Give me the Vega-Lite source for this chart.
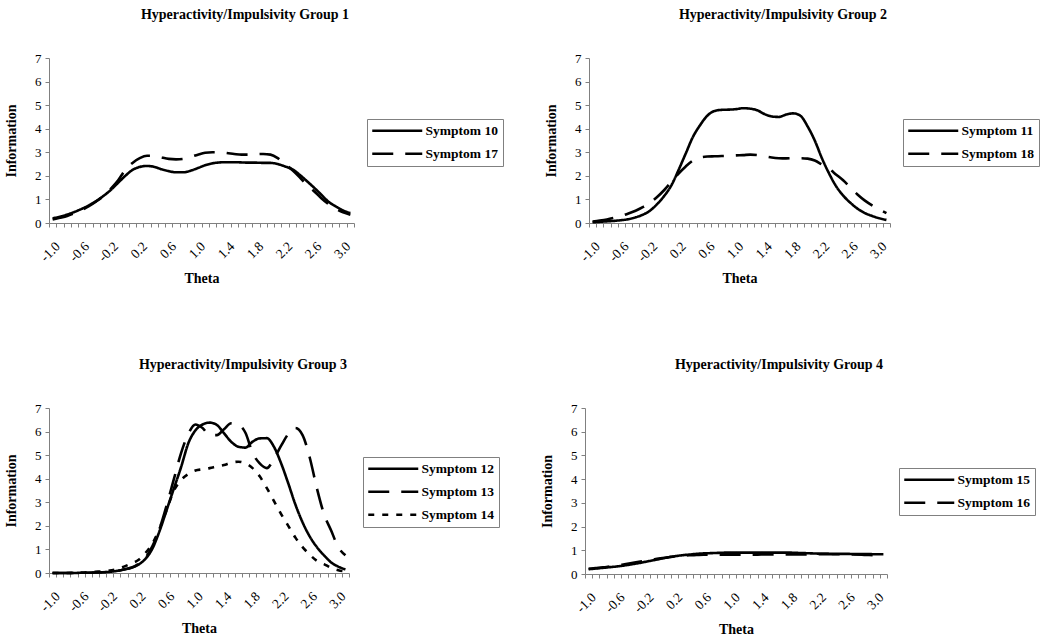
{
  "$schema": "https://vega.github.io/schema/vega-lite/v6.json",
  "background": "white",
  "padding": {"left": 4, "top": 8, "right": 0, "bottom": 0},
  "datasets": {
    "d": [
      {"theta": -1.0, "Symptom 10": 0.2, "Symptom 17": 0.15, "Symptom 11": 0.03, "Symptom 18": 0.06, "Symptom 12": 0, "Symptom 13": 0, "Symptom 14": 0, "Symptom 15": 0.2, "Symptom 16": 0.22},
      {"theta": -0.9, "Symptom 10": 0.27, "Symptom 17": 0.22, "Symptom 11": 0.05, "Symptom 18": 0.1, "Symptom 12": 0, "Symptom 13": 0, "Symptom 14": 0, "Symptom 15": 0.23, "Symptom 16": 0.25},
      {"theta": -0.8, "Symptom 10": 0.36, "Symptom 17": 0.3, "Symptom 11": 0.07, "Symptom 18": 0.15, "Symptom 12": 0, "Symptom 13": 0, "Symptom 14": 0, "Symptom 15": 0.26, "Symptom 16": 0.28},
      {"theta": -0.7, "Symptom 10": 0.47, "Symptom 17": 0.42, "Symptom 11": 0.09, "Symptom 18": 0.22, "Symptom 12": 0, "Symptom 13": 0, "Symptom 14": 0.01, "Symptom 15": 0.29, "Symptom 16": 0.32},
      {"theta": -0.6, "Symptom 10": 0.6, "Symptom 17": 0.55, "Symptom 11": 0.12, "Symptom 18": 0.3, "Symptom 12": 0.01, "Symptom 13": 0.01, "Symptom 14": 0.02, "Symptom 15": 0.32, "Symptom 16": 0.36},
      {"theta": -0.5, "Symptom 10": 0.75, "Symptom 17": 0.72, "Symptom 11": 0.16, "Symptom 18": 0.4, "Symptom 12": 0.01, "Symptom 13": 0.01, "Symptom 14": 0.03, "Symptom 15": 0.36, "Symptom 16": 0.41},
      {"theta": -0.4, "Symptom 10": 0.93, "Symptom 17": 0.92, "Symptom 11": 0.24, "Symptom 18": 0.52, "Symptom 12": 0.02, "Symptom 13": 0.02, "Symptom 14": 0.05, "Symptom 15": 0.41, "Symptom 16": 0.46},
      {"theta": -0.3, "Symptom 10": 1.15, "Symptom 17": 1.15, "Symptom 11": 0.35, "Symptom 18": 0.67, "Symptom 12": 0.03, "Symptom 13": 0.03, "Symptom 14": 0.07, "Symptom 15": 0.46, "Symptom 16": 0.51},
      {"theta": -0.2, "Symptom 10": 1.4, "Symptom 17": 1.45, "Symptom 11": 0.52, "Symptom 18": 0.85, "Symptom 12": 0.05, "Symptom 13": 0.05, "Symptom 14": 0.1, "Symptom 15": 0.52, "Symptom 16": 0.56},
      {"theta": -0.1, "Symptom 10": 1.7, "Symptom 17": 1.8, "Symptom 11": 0.8, "Symptom 18": 1.1, "Symptom 12": 0.09, "Symptom 13": 0.09, "Symptom 14": 0.17, "Symptom 15": 0.58, "Symptom 16": 0.61},
      {"theta": 0.0, "Symptom 10": 2.0, "Symptom 17": 2.25, "Symptom 11": 1.15, "Symptom 18": 1.4, "Symptom 12": 0.15, "Symptom 13": 0.15, "Symptom 14": 0.27, "Symptom 15": 0.64, "Symptom 16": 0.66},
      {"theta": 0.1, "Symptom 10": 2.25, "Symptom 17": 2.55, "Symptom 11": 1.6, "Symptom 18": 1.75, "Symptom 12": 0.22, "Symptom 13": 0.22, "Symptom 14": 0.4, "Symptom 15": 0.7, "Symptom 16": 0.7},
      {"theta": 0.2, "Symptom 10": 2.38, "Symptom 17": 2.75, "Symptom 11": 2.25, "Symptom 18": 2.1, "Symptom 12": 0.35, "Symptom 13": 0.38, "Symptom 14": 0.55, "Symptom 15": 0.75, "Symptom 16": 0.74},
      {"theta": 0.3, "Symptom 10": 2.42, "Symptom 17": 2.85, "Symptom 11": 2.95, "Symptom 18": 2.4, "Symptom 12": 0.6, "Symptom 13": 0.65, "Symptom 14": 0.85, "Symptom 15": 0.79, "Symptom 16": 0.77},
      {"theta": 0.4, "Symptom 10": 2.38, "Symptom 17": 2.85, "Symptom 11": 3.65, "Symptom 18": 2.65, "Symptom 12": 1.05, "Symptom 13": 1.15, "Symptom 14": 1.26, "Symptom 15": 0.82, "Symptom 16": 0.79},
      {"theta": 0.5, "Symptom 10": 2.28, "Symptom 17": 2.78, "Symptom 11": 4.15, "Symptom 18": 2.78, "Symptom 12": 1.8, "Symptom 13": 1.9, "Symptom 14": 1.9, "Symptom 15": 0.85, "Symptom 16": 0.8},
      {"theta": 0.6, "Symptom 10": 2.2, "Symptom 17": 2.72, "Symptom 11": 4.55, "Symptom 18": 2.82, "Symptom 12": 2.7, "Symptom 13": 2.9, "Symptom 14": 2.7, "Symptom 15": 0.87, "Symptom 16": 0.81},
      {"theta": 0.7, "Symptom 10": 2.15, "Symptom 17": 2.7, "Symptom 11": 4.75, "Symptom 18": 2.83, "Symptom 12": 3.6, "Symptom 13": 4.0, "Symptom 14": 3.5, "Symptom 15": 0.88, "Symptom 16": 0.81},
      {"theta": 0.8, "Symptom 10": 2.15, "Symptom 17": 2.72, "Symptom 11": 4.8, "Symptom 18": 2.84, "Symptom 12": 4.5, "Symptom 13": 5.1, "Symptom 14": 3.95, "Symptom 15": 0.89, "Symptom 16": 0.81},
      {"theta": 0.9, "Symptom 10": 2.22, "Symptom 17": 2.8, "Symptom 11": 4.81, "Symptom 18": 2.85, "Symptom 12": 5.5, "Symptom 13": 5.9, "Symptom 14": 4.2, "Symptom 15": 0.9, "Symptom 16": 0.81},
      {"theta": 1.0, "Symptom 10": 2.33, "Symptom 17": 2.9, "Symptom 11": 4.83, "Symptom 18": 2.87, "Symptom 12": 6.05, "Symptom 13": 6.3, "Symptom 14": 4.35, "Symptom 15": 0.9, "Symptom 16": 0.81},
      {"theta": 1.1, "Symptom 10": 2.45, "Symptom 17": 2.98, "Symptom 11": 4.87, "Symptom 18": 2.88, "Symptom 12": 6.3, "Symptom 13": 6.15, "Symptom 14": 4.4, "Symptom 15": 0.9, "Symptom 16": 0.81},
      {"theta": 1.2, "Symptom 10": 2.53, "Symptom 17": 3.0, "Symptom 11": 4.85, "Symptom 18": 2.9, "Symptom 12": 6.38, "Symptom 13": 5.85, "Symptom 14": 4.45, "Symptom 15": 0.9, "Symptom 16": 0.81},
      {"theta": 1.3, "Symptom 10": 2.57, "Symptom 17": 3.0, "Symptom 11": 4.78, "Symptom 18": 2.88, "Symptom 12": 6.28, "Symptom 13": 5.85, "Symptom 14": 4.52, "Symptom 15": 0.9, "Symptom 16": 0.81},
      {"theta": 1.4, "Symptom 10": 2.58, "Symptom 17": 2.97, "Symptom 11": 4.62, "Symptom 18": 2.83, "Symptom 12": 5.93, "Symptom 13": 6.1, "Symptom 14": 4.58, "Symptom 15": 0.9, "Symptom 16": 0.82},
      {"theta": 1.5, "Symptom 10": 2.58, "Symptom 17": 2.93, "Symptom 11": 4.52, "Symptom 18": 2.78, "Symptom 12": 5.57, "Symptom 13": 6.35, "Symptom 14": 4.68, "Symptom 15": 0.9, "Symptom 16": 0.82},
      {"theta": 1.6, "Symptom 10": 2.57, "Symptom 17": 2.9, "Symptom 11": 4.5, "Symptom 18": 2.75, "Symptom 12": 5.36, "Symptom 13": 6.3, "Symptom 14": 4.72, "Symptom 15": 0.9, "Symptom 16": 0.82},
      {"theta": 1.7, "Symptom 10": 2.56, "Symptom 17": 2.9, "Symptom 11": 4.6, "Symptom 18": 2.74, "Symptom 12": 5.32, "Symptom 13": 5.95, "Symptom 14": 4.65, "Symptom 15": 0.9, "Symptom 16": 0.82},
      {"theta": 1.8, "Symptom 10": 2.56, "Symptom 17": 2.92, "Symptom 11": 4.65, "Symptom 18": 2.75, "Symptom 12": 5.57, "Symptom 13": 5.1, "Symptom 14": 4.45, "Symptom 15": 0.9, "Symptom 16": 0.82},
      {"theta": 1.9, "Symptom 10": 2.55, "Symptom 17": 2.93, "Symptom 11": 4.55, "Symptom 18": 2.75, "Symptom 12": 5.71, "Symptom 13": 4.65, "Symptom 14": 4.1, "Symptom 15": 0.89, "Symptom 16": 0.82},
      {"theta": 2.0, "Symptom 10": 2.55, "Symptom 17": 2.9, "Symptom 11": 4.1, "Symptom 18": 2.73, "Symptom 12": 5.72, "Symptom 13": 4.45, "Symptom 14": 3.6, "Symptom 15": 0.88, "Symptom 16": 0.82},
      {"theta": 2.1, "Symptom 10": 2.5, "Symptom 17": 2.75, "Symptom 11": 3.5, "Symptom 18": 2.65, "Symptom 12": 5.35, "Symptom 13": 4.85, "Symptom 14": 3.05, "Symptom 15": 0.87, "Symptom 16": 0.83},
      {"theta": 2.2, "Symptom 10": 2.4, "Symptom 17": 2.5, "Symptom 11": 2.75, "Symptom 18": 2.48, "Symptom 12": 4.65, "Symptom 13": 5.4, "Symptom 14": 2.5, "Symptom 15": 0.86, "Symptom 16": 0.83},
      {"theta": 2.3, "Symptom 10": 2.28, "Symptom 17": 2.25, "Symptom 11": 2.1, "Symptom 18": 2.3, "Symptom 12": 3.8, "Symptom 13": 5.9, "Symptom 14": 2.0, "Symptom 15": 0.86, "Symptom 16": 0.83},
      {"theta": 2.4, "Symptom 10": 2.05, "Symptom 17": 1.95, "Symptom 11": 1.55, "Symptom 18": 2.05, "Symptom 12": 2.9, "Symptom 13": 6.15, "Symptom 14": 1.5, "Symptom 15": 0.85, "Symptom 16": 0.83},
      {"theta": 2.5, "Symptom 10": 1.78, "Symptom 17": 1.62, "Symptom 11": 1.15, "Symptom 18": 1.8, "Symptom 12": 2.15, "Symptom 13": 5.85, "Symptom 14": 1.1, "Symptom 15": 0.85, "Symptom 16": 0.83},
      {"theta": 2.6, "Symptom 10": 1.5, "Symptom 17": 1.35, "Symptom 11": 0.85, "Symptom 18": 1.5, "Symptom 12": 1.55, "Symptom 13": 4.9, "Symptom 14": 0.78, "Symptom 15": 0.85, "Symptom 16": 0.83},
      {"theta": 2.7, "Symptom 10": 1.2, "Symptom 17": 1.05, "Symptom 11": 0.6, "Symptom 18": 1.2, "Symptom 12": 1.1, "Symptom 13": 3.6, "Symptom 14": 0.52, "Symptom 15": 0.84, "Symptom 16": 0.82},
      {"theta": 2.8, "Symptom 10": 0.9, "Symptom 17": 0.8, "Symptom 11": 0.42, "Symptom 18": 0.95, "Symptom 12": 0.75, "Symptom 13": 2.5, "Symptom 14": 0.38, "Symptom 15": 0.84, "Symptom 16": 0.81},
      {"theta": 2.9, "Symptom 10": 0.7, "Symptom 17": 0.6, "Symptom 11": 0.3, "Symptom 18": 0.75, "Symptom 12": 0.45, "Symptom 13": 1.8, "Symptom 14": 0.22, "Symptom 15": 0.84, "Symptom 16": 0.8},
      {"theta": 3.0, "Symptom 10": 0.53, "Symptom 17": 0.45, "Symptom 11": 0.2, "Symptom 18": 0.58, "Symptom 12": 0.27, "Symptom 13": 1.1, "Symptom 14": 0.12, "Symptom 15": 0.83, "Symptom 16": 0.78},
      {"theta": 3.1, "Symptom 10": 0.42, "Symptom 17": 0.35, "Symptom 11": 0.13, "Symptom 18": 0.42, "Symptom 12": 0.15, "Symptom 13": 0.75, "Symptom 14": 0.07, "Symptom 15": 0.83, "Symptom 16": 0.75}
    ]
  },
  "config": {
    "font": "Liberation Serif",
    "view": {"stroke": null},
    "title": {"font": "Liberation Serif", "fontSize": 14, "fontWeight": "bold", "color": "black", "anchor": "middle", "frame": "bounds", "offset": 30, "dx": -9},
    "axis": {
      "labelFont": "Liberation Serif", "titleFont": "Liberation Serif",
      "labelFontSize": 13, "labelColor": "black", "titleColor": "black",
      "titleFontSize": 14, "titleFontWeight": "bold",
      "domainColor": "#808080", "tickColor": "#808080", "tickSize": 4, "grid": false
    },
    "legend": {
      "orient": "none", "title": null, "strokeColor": "#808080", "padding": 5,
      "labelFont": "Liberation Serif", "labelFontSize": 13.5, "labelFontWeight": "bold", "labelColor": "black",
      "symbolType": "M-1.3,0H8.7", "symbolSize": 100, "symbolStrokeWidth": 2.5, "symbolStrokeColor": "black",
      "labelOffset": 40, "rowPadding": 8
    }
  },
  "spacing": 72,
  "resolve": {"scale": {"x": "independent", "y": "independent", "strokeDash": "independent"}, "legend": {"strokeDash": "independent"}},
  "vconcat": [
    {
      "spacing": 40,
      "resolve": {"scale": {"x": "independent", "y": "independent", "strokeDash": "independent"}, "legend": {"strokeDash": "independent"}},
      "hconcat": [
        {
          "title": "Hyperactivity/Impulsivity Group 1",
          "width": 305, "height": 165,
          "data": {"name": "d"},
          "transform": [{"fold": ["Symptom 10", "Symptom 17"], "as": ["series", "info"]}],
          "mark": {"type": "line", "color": "black", "strokeWidth": 2.6, "interpolate": "monotone"},
          "encoding": {
            "x": {"field": "theta", "type": "quantitative", "scale": {"domain": [-1.05, 3.15], "nice": false, "zero": false},
              "axis": {"title": "Theta", "values": [-1.05,-0.95,-0.85,-0.75,-0.65,-0.55,-0.45,-0.35,-0.25,-0.15,-0.05,0.05,0.15,0.25,0.35,0.45,0.55,0.65,0.75,0.85,0.95,1.05,1.15,1.25,1.35,1.45,1.55,1.65,1.75,1.85,1.95,2.05,2.15,2.25,2.35,2.45,2.55,2.65,2.75,2.85,2.95,3.05,3.15],
                "labelExpr": "round((datum.value + 1.05) * 10) % 4 == 0 && datum.value < 3 ? replace(format(datum.value + 0.05, '.1f'), '−', '-') : ''",
                "labelFontSize": 13.5, "labelAngle": -45, "labelOffset": 3.6, "labelPadding": 12, "labelOverlap": false, "labelBound": false, "labelFlush": false, "titlePadding": 8}},
            "y": {"field": "info", "type": "quantitative", "scale": {"domain": [0, 7], "nice": false},
              "axis": {"title": "Information", "values": [0,1,2,3,4,5,6,7], "labelPadding": 4, "titlePadding": 16}},
            "strokeDash": {"field": "series", "type": "nominal",
              "scale": {"domain": ["Symptom 10", "Symptom 17"], "range": [[1, 0], [21, 12]]},
              "legend": {"legendX": 318, "legendY": 61}}
          }
        },
        {
          "title": "Hyperactivity/Impulsivity Group 2",
          "width": 301, "height": 165,
          "data": {"name": "d"},
          "transform": [{"fold": ["Symptom 11", "Symptom 18"], "as": ["series", "info"]}],
          "mark": {"type": "line", "color": "black", "strokeWidth": 2.6, "interpolate": "monotone"},
          "encoding": {
            "x": {"field": "theta", "type": "quantitative", "scale": {"domain": [-1.05, 3.15], "nice": false, "zero": false},
              "axis": {"title": "Theta", "values": [-1.05,-0.95,-0.85,-0.75,-0.65,-0.55,-0.45,-0.35,-0.25,-0.15,-0.05,0.05,0.15,0.25,0.35,0.45,0.55,0.65,0.75,0.85,0.95,1.05,1.15,1.25,1.35,1.45,1.55,1.65,1.75,1.85,1.95,2.05,2.15,2.25,2.35,2.45,2.55,2.65,2.75,2.85,2.95,3.05,3.15],
                "labelExpr": "round((datum.value + 1.05) * 10) % 4 == 0 && datum.value < 3 ? replace(format(datum.value + 0.05, '.1f'), '−', '-') : ''",
                "labelFontSize": 13.5, "labelAngle": -45, "labelOffset": 3.6, "labelPadding": 12, "labelOverlap": false, "labelBound": false, "labelFlush": false, "titlePadding": 8}},
            "y": {"field": "info", "type": "quantitative", "scale": {"domain": [0, 7], "nice": false},
              "axis": {"title": "Information", "values": [0,1,2,3,4,5,6,7], "labelPadding": 4, "titlePadding": 16}},
            "strokeDash": {"field": "series", "type": "nominal",
              "scale": {"domain": ["Symptom 11", "Symptom 18"], "range": [[1, 0], [21, 12]]},
              "legend": {"legendX": 314, "legendY": 61}}
          }
        }
      ]
    },
    {
      "spacing": 40,
      "resolve": {"scale": {"x": "independent", "y": "independent", "strokeDash": "independent"}, "legend": {"strokeDash": "independent"}},
      "hconcat": [
        {
          "title": "Hyperactivity/Impulsivity Group 3",
          "width": 300, "height": 165,
          "data": {"name": "d"},
          "transform": [{"fold": ["Symptom 12", "Symptom 13", "Symptom 14"], "as": ["series", "info"]}],
          "mark": {"type": "line", "color": "black", "strokeWidth": 2.6, "interpolate": "monotone"},
          "encoding": {
            "x": {"field": "theta", "type": "quantitative", "scale": {"domain": [-1.05, 3.15], "nice": false, "zero": false},
              "axis": {"title": "Theta", "values": [-1.05,-0.95,-0.85,-0.75,-0.65,-0.55,-0.45,-0.35,-0.25,-0.15,-0.05,0.05,0.15,0.25,0.35,0.45,0.55,0.65,0.75,0.85,0.95,1.05,1.15,1.25,1.35,1.45,1.55,1.65,1.75,1.85,1.95,2.05,2.15,2.25,2.35,2.45,2.55,2.65,2.75,2.85,2.95,3.05,3.15],
                "labelExpr": "round((datum.value + 1.05) * 10) % 4 == 0 && datum.value < 3 ? replace(format(datum.value + 0.05, '.1f'), '−', '-') : ''",
                "labelFontSize": 13.5, "labelAngle": -45, "labelOffset": 3.6, "labelPadding": 12, "labelOverlap": false, "labelBound": false, "labelFlush": false, "titlePadding": 8}},
            "y": {"field": "info", "type": "quantitative", "scale": {"domain": [0, 7], "nice": false},
              "axis": {"title": "Information", "values": [0,1,2,3,4,5,6,7], "labelPadding": 4, "titlePadding": 16}},
            "strokeDash": {"field": "series", "type": "nominal",
              "scale": {"domain": ["Symptom 12", "Symptom 13", "Symptom 14"], "range": [[1, 0], [21, 12], [6, 8]]},
              "legend": {"legendX": 314, "legendY": 49}}
          }
        },
        {
          "title": "Hyperactivity/Impulsivity Group 4",
          "width": 302, "height": 166,
          "data": {"name": "d"},
          "transform": [{"fold": ["Symptom 15", "Symptom 16"], "as": ["series", "info"]}],
          "mark": {"type": "line", "color": "black", "strokeWidth": 2.6, "interpolate": "monotone"},
          "encoding": {
            "x": {"field": "theta", "type": "quantitative", "scale": {"domain": [-1.05, 3.15], "nice": false, "zero": false},
              "axis": {"title": "Theta", "values": [-1.05,-0.95,-0.85,-0.75,-0.65,-0.55,-0.45,-0.35,-0.25,-0.15,-0.05,0.05,0.15,0.25,0.35,0.45,0.55,0.65,0.75,0.85,0.95,1.05,1.15,1.25,1.35,1.45,1.55,1.65,1.75,1.85,1.95,2.05,2.15,2.25,2.35,2.45,2.55,2.65,2.75,2.85,2.95,3.05,3.15],
                "labelExpr": "round((datum.value + 1.05) * 10) % 4 == 0 && datum.value < 3 ? replace(format(datum.value + 0.05, '.1f'), '−', '-') : ''",
                "labelFontSize": 13.5, "labelAngle": -45, "labelOffset": 3.6, "labelPadding": 12, "labelOverlap": false, "labelBound": false, "labelFlush": false, "titlePadding": 8}},
            "y": {"field": "info", "type": "quantitative", "scale": {"domain": [0, 7], "nice": false},
              "axis": {"title": "Information", "values": [0,1,2,3,4,5,6,7], "labelPadding": 4, "titlePadding": 16}},
            "strokeDash": {"field": "series", "type": "nominal",
              "scale": {"domain": ["Symptom 15", "Symptom 16"], "range": [[1, 0], [21, 12]]},
              "legend": {"legendX": 314, "legendY": 60}}
          }
        }
      ]
    }
  ]
}
